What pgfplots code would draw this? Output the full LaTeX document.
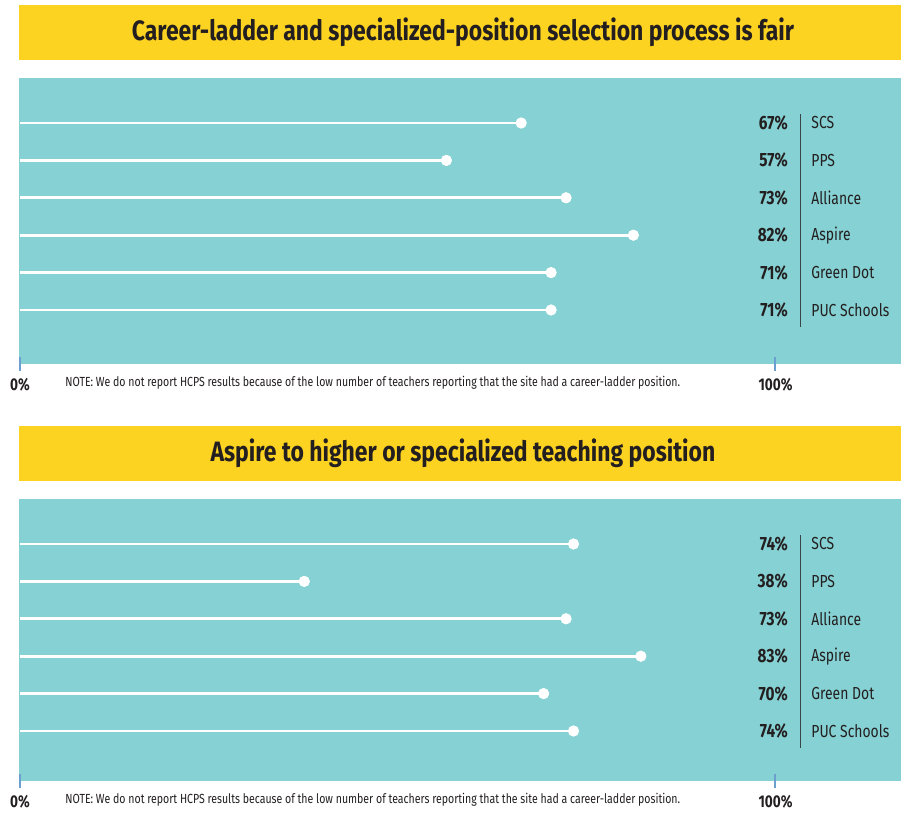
\documentclass[border=0pt]{standalone}
\usepackage{fontspec}
\setmainfont[FakeStretch=0.8]{Fira Sans}
\newfontfamily\titlefont[FakeStretch=0.82]{Fira Sans}
\usepackage{pgfplots}
\usepackage{pgfplotstable}
\pgfplotsset{compat=1.18}
\definecolor{tealbg}{HTML}{86D1D3}
\definecolor{barYellow}{HTML}{FDD322}
\definecolor{inkDark}{HTML}{231F20}
\definecolor{tickBlue}{HTML}{6A9FCF}
\definecolor{divider}{HTML}{3A4547}

\pgfplotstableread[col sep=comma]{
row,val,name
1,67,SCS
2,57,PPS
3,73,Alliance
4,82,Aspire
5,71,Green Dot
6,71,PUC Schools
}\fairtable

\pgfplotstableread[col sep=comma]{
row,val,name
1,74,SCS
2,38,PPS
3,73,Alliance
4,83,Aspire
5,70,Green Dot
6,74,PUC Schools
}\aspiretable

\pgfplotsset{
  lolli/.style={
    scale only axis,
    anchor=south west,
    width=441pt,
    xmin=-0.134, xmax=117.78,
    y dir=reverse,
    axis background/.style={fill=tealbg},
    axis line style={draw=none},
    clip=false,
    ytick=\empty,
    xtick={0,101},
    xticklabels={0\%,100\%},
    xtick pos=lower,
    tick align=center,
    major tick length=7pt,
    every tick/.style={tickBlue, line width=1pt},
    xticklabel style={font=\fontsize{8.5}{10}\selectfont\bfseries, text=inkDark},
  },
}

\newcommand{\panel}[1]{%
  \addplot[xcomb, white, line width=1.4pt] table[x=val, y=row] {#1};
  \addplot[only marks, mark=*, mark size=2.6pt, white] table[x=val, y=row] {#1};
  \addplot[only marks, mark=none, point meta=explicit symbolic,
    nodes near coords={\pgfplotspointmeta\%},
    every node near coord/.style={anchor=east, inner sep=0pt,
      font=\fontsize{9.6}{11}\selectfont\bfseries, text=inkDark}]
    table[x expr=102.7, y=row, meta=val] {#1};
  \addplot[only marks, mark=none, point meta=explicit symbolic,
    nodes near coords={\pgfplotspointmeta},
    every node near coord/.style={anchor=west, inner sep=0pt,
      font=\fontsize{8.7}{10}\selectfont, text=inkDark}]
    table[x expr=105.75, y=row, meta=name] {#1};
  \draw[divider, line width=0.6pt] (axis cs:104.3,0.76) -- (axis cs:104.3,6.45);
}

\begin{document}
\begin{tikzpicture}
\path (0pt,0pt) rectangle (450.5pt,-405.5pt);

% panel 1
\fill[barYellow] (9.5pt,-2.5pt) rectangle (450.5pt,-30pt);
\node[font=\titlefont\fontsize{14}{16}\selectfont\bfseries, text=inkDark] at (231.5pt,-16.25pt)
  {Career-ladder and specialized-position selection process is fair};
\begin{axis}[lolli, at={(9.5pt,-182pt)}, height=143pt, ymin=-0.203, ymax=7.444]
  \panel{\fairtable}
\end{axis}
\node[anchor=west, font=\fontsize{6.6}{8}\selectfont, text=inkDark, inner sep=0pt] at (32.5pt,-191.5pt)
  {NOTE: We do not report HCPS results because of the low number of teachers reporting that the site had a career-ladder position.};

% panel 2
\fill[barYellow] (9.5pt,-213pt) rectangle (450.5pt,-240.5pt);
\node[font=\titlefont\fontsize{14}{16}\selectfont\bfseries, text=inkDark] at (231.5pt,-226.75pt)
  {Aspire to higher or specialized teaching position};
\begin{axis}[lolli, at={(9.5pt,-390.5pt)}, height=141pt, ymin=-0.203, ymax=7.337]
  \panel{\aspiretable}
\end{axis}
\node[anchor=west, font=\fontsize{6.6}{8}\selectfont, text=inkDark, inner sep=0pt] at (32.5pt,-400pt)
  {NOTE: We do not report HCPS results because of the low number of teachers reporting that the site had a career-ladder position.};
\end{tikzpicture}
\end{document}
